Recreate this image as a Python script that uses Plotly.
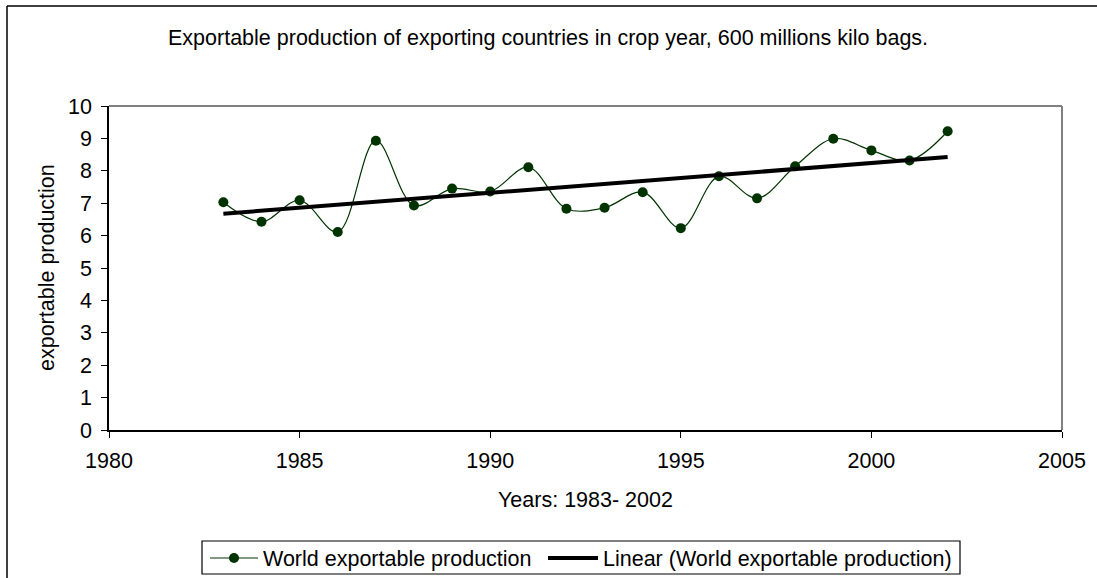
import numpy as np
import plotly.graph_objects as go

# Crop years and world exportable production (600 million kilo bags)
years = [1983, 1984, 1985, 1986, 1987, 1988, 1989, 1990, 1991, 1992,
         1993, 1994, 1995, 1996, 1997, 1998, 1999, 2000, 2001, 2002]
production = [7.03, 6.43, 7.09, 6.11, 8.93, 6.93, 7.45, 7.36, 8.11, 6.83,
              6.86, 7.34, 6.23, 7.83, 7.15, 8.14, 8.99, 8.63, 8.32, 9.22]

series_name = "World exportable production"
trend_name = "Linear (World exportable production)"
title_text = "Exportable production of exporting countries in crop year, 600 millions kilo bags."
x_title = "Years: 1983- 2002"
y_title = "exportable production"

# Least-squares linear trend over the same years
slope, intercept = np.polyfit(years, production, 1)
trend = [slope * y + intercept for y in years]

W, H = 1097, 578
L, R, T, B = 109, 35, 106, 148
pw, ph = W - L - R, H - T - B

font = dict(family="Liberation Sans, Arial, sans-serif", size=21.5, color="black")
green = "#003300"

fig = go.Figure()
fig.add_trace(go.Scatter(
    x=years, y=production, name=series_name,
    mode="lines+markers",
    line=dict(color=green, width=1.2, shape="spline", smoothing=1.0),
    marker=dict(color=green, size=10),
    legend="legend",
))
fig.add_trace(go.Scatter(
    x=[years[0], years[-1]], y=[trend[0], trend[-1]], name=trend_name,
    mode="lines", line=dict(color="black", width=4),
    legend="legend2",
))


def px_x(p):
    return (p - L) / pw


def px_y(p):
    return 1 - (p - T) / ph


shapes = [
    # gray plot-area border on top and right
    dict(type="line", xref="paper", yref="paper", x0=0, x1=1, y0=1, y1=1,
         line=dict(color="#808080", width=2)),
    dict(type="line", xref="paper", yref="paper", x0=1, x1=1, y0=0, y1=1,
         line=dict(color="#808080", width=2)),
    # outer chart frame (left and top edges)
    dict(type="line", xref="paper", yref="paper",
         x0=px_x(7), x1=px_x(7), y0=px_y(600), y1=px_y(6),
         line=dict(color="black", width=1.5)),
    dict(type="line", xref="paper", yref="paper",
         x0=px_x(7), x1=px_x(1120), y0=px_y(6), y1=px_y(6),
         line=dict(color="black", width=1.5)),
    # legend box
    dict(type="rect", xref="paper", yref="paper",
         x0=px_x(202), x1=px_x(960), y0=px_y(574), y1=px_y(541),
         line=dict(color="black", width=1.2), fillcolor="rgba(0,0,0,0)"),
]

annotations = [
    dict(text=title_text, xref="paper", yref="paper",
         x=px_x(548), y=px_y(38), xanchor="center", yanchor="middle",
         showarrow=False, font=font),
    dict(text=x_title, xref="paper", yref="paper",
         x=0.5, y=px_y(500), xanchor="center", yanchor="middle",
         showarrow=False, font=font),
    dict(text=y_title, xref="paper", yref="paper", textangle=-90,
         x=px_x(47), y=0.5, xanchor="center", yanchor="middle",
         showarrow=False, font=font),
]

legend_common = dict(orientation="h", xanchor="left", y=px_y(558), yanchor="middle",
                     borderwidth=0, bgcolor="rgba(0,0,0,0)", font=font)

fig.update_layout(
    width=W, height=H,
    margin=dict(l=L, r=R, t=T, b=B, autoexpand=False),
    paper_bgcolor="white", plot_bgcolor="white",
    font=font,
    showlegend=True,
    legend=dict(x=px_x(205), itemwidth=48, **legend_common),
    legend2=dict(x=px_x(543), itemwidth=50, **legend_common),
    shapes=shapes,
    annotations=annotations,
)
fig.update_xaxes(range=[1980, 2005], dtick=5, tick0=1980,
                 showline=True, linecolor="black", linewidth=1.5,
                 ticks="outside", ticklen=6, tickcolor="black",
                 ticklabelstandoff=4, automargin=False,
                 showgrid=False, zeroline=False)
fig.update_yaxes(range=[0, 10], dtick=1, tick0=0,
                 showline=True, linecolor="black", linewidth=1.5,
                 ticks="outside", ticklen=6, tickcolor="black",
                 ticklabelstandoff=5, automargin=False,
                 showgrid=False, zeroline=False)

fig.write_html("out.html")
